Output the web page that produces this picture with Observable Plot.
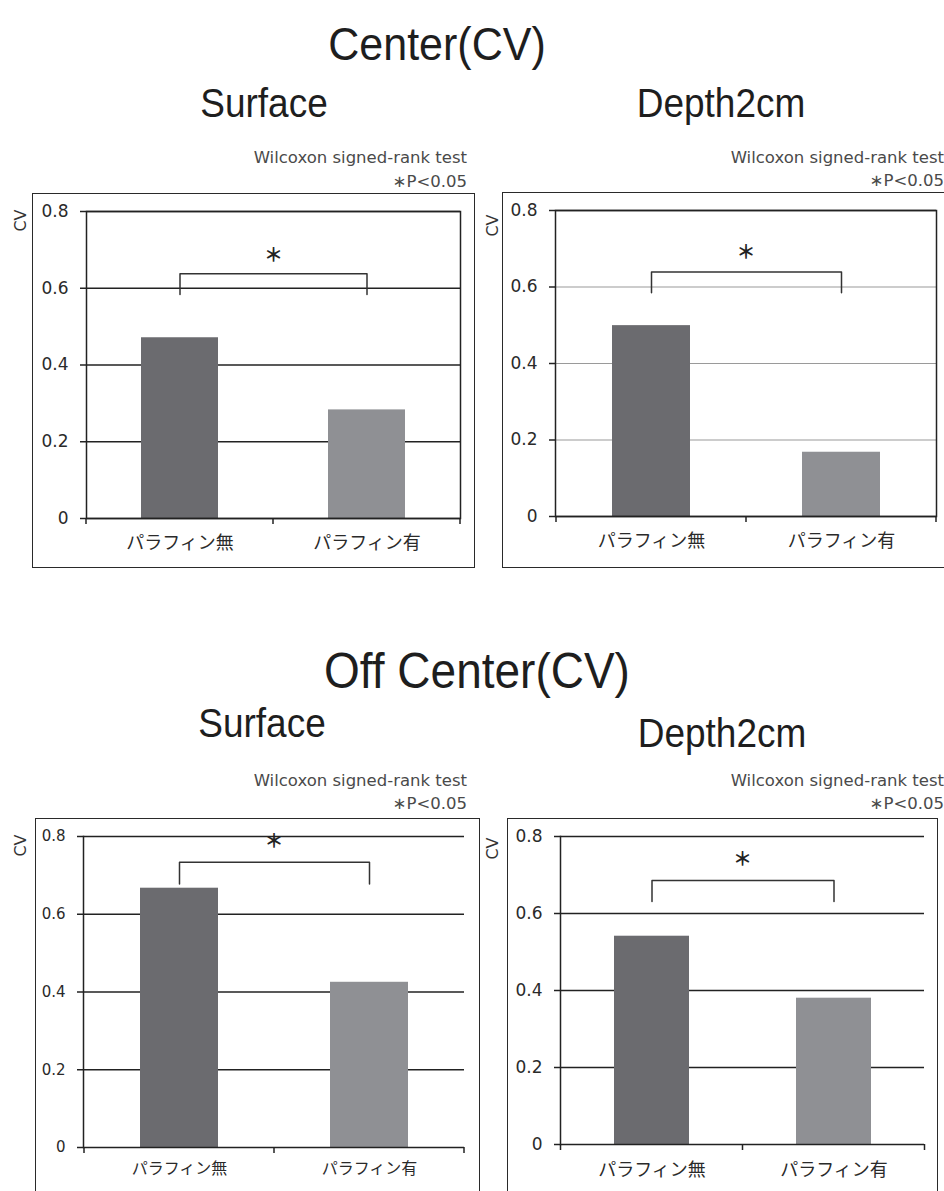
<!DOCTYPE html>
<html>
<head>
<meta charset="utf-8">
<script src="https://cdn.jsdelivr.net/npm/d3@7"></script>
<script src="https://cdn.jsdelivr.net/npm/@observablehq/plot@0.6"></script>
<style>
html, body { margin: 0; padding: 0; background: #fff; }
body { width: 944px; height: 1191px; overflow: hidden; position: relative; }
.abs { position: absolute; white-space: nowrap; }
.title { font-family: "Liberation Sans", Arial, sans-serif; color: #1e1e1e; line-height: 1; transform: translateX(-50%) scaleY(1.08); transform-origin: 50% 80%; }
.note { font-family: "DejaVu Sans", sans-serif; color: #4a4a4a; font-size: 16.5px; line-height: 1; text-align: right; }
.frame { position: absolute; border: 1.5px solid #2a2a2a; box-sizing: border-box; }
.plot { position: absolute; }
</style>
</head>
<body>
<script>
// ---------------- data ----------------
const categories = ["パラフィン無", "パラフィン有"];
const cvCenterSurface = [0.471, 0.283];
const cvCenterDepth = [0.499, 0.168];
const cvOffSurface = [0.667, 0.425];
const cvOffDepth = [0.541, 0.380];
const bracketTop = [0.638, 0.639, 0.734, 0.686];
const bracketEnd = [0.584, 0.585, 0.678, 0.631];
const starY = [0.685, 0.688, 0.785, 0.738];
const yTicks = [0, 0.2, 0.4, 0.6, 0.8];
const yTickLabels = ["0", "0.2", "0.4", "0.6", "0.8"];
const sectionTitles = ["Center(CV)", "Off Center(CV)"];
const depthTitles = ["Surface", "Depth2cm"];
const testNote = "Wilcoxon signed-rank test";
const sigNote = "∗P<0.05";
const starText = "＊";
const yLabel = "CV";
const barColors = ["#6b6b6f", "#8f9094"];

// ---------------- layout (positions / styles) ----------------
const panels = [
  {values: cvCenterSurface, svg: [0, 140, 472, 440], m: [71, 12, 62, 86], frame: [32, 193, 443, 375],
   grid: "#222", fullFrame: true, tickFont: 17, xFont: 18, xPad: 18, cv: [-66, 9], note: [467, 164, 188]},
  {values: cvCenterDepth, svg: [472, 140, 472, 440], m: [70, 8, 64, 83], frame: [502, 192, 450, 376],
   grid: "#9a9a9a", fullFrame: true, tickFont: 17, xFont: 18, xPad: 18, cv: [-63, 15], note: [944, 164, 187]},
  {values: cvOffSurface, svg: [0, 760, 472, 431], m: [76, 8, 44, 83], frame: [35, 818, 445, 420],
   grid: "#222", fullFrame: false, tickFont: 15, xFont: 16, xPad: 15, cv: [-63, 9], note: [467, 787, 810]},
  {values: cvOffDepth, svg: [472, 760, 472, 431], m: [76, 20, 47, 88], frame: [507, 818, 431, 420],
   grid: "#222", fullFrame: false, tickFont: 17, xFont: 18, xPad: 19, cv: [-68, 12], note: [944, 787, 810]}
];

const titles = [
  {text: sectionTitles[0], x: 437, base: 60, size: 43},
  {text: depthTitles[0], x: 264, base: 117, size: 37},
  {text: depthTitles[1], x: 721, base: 117, size: 37},
  {text: sectionTitles[1], x: 477, base: 688, size: 46},
  {text: depthTitles[0], x: 262, base: 737, size: 37},
  {text: depthTitles[1], x: 722, base: 747, size: 37}
];

function addDiv(cls, text, styles) {
  const d = document.createElement("div");
  d.className = cls;
  d.textContent = text;
  Object.assign(d.style, styles);
  document.body.appendChild(d);
  return d;
}

for (const t of titles) {
  addDiv("abs title", t.text, {left: t.x + "px", top: (t.base - 0.8465 * t.size) + "px", fontSize: t.size + "px"});
}

// boundary ticks below the x axis, computed from the band scale
function boundaryTicks(len) {
  return (index, scales) => {
    const x = scales.x, y = scales.y;
    const step = x.step(), bw = x.bandwidth();
    const y0 = y(0);
    const g = d3.create("svg:g").attr("stroke", "#222").attr("stroke-width", 1.5);
    const xs = x.domain().map(c => x(c) - (step - bw) / 2);
    xs.push(xs[xs.length - 1] + step);
    for (const xv of xs) g.append("line").attr("x1", xv).attr("x2", xv).attr("y1", y0).attr("y2", y0 + len);
    return g.node();
  };
}

panels.forEach((p, k) => {
  // outer frame
  const f = document.createElement("div");
  f.className = "frame";
  Object.assign(f.style, {left: p.frame[0] + "px", top: p.frame[1] + "px", width: p.frame[2] + "px", height: p.frame[3] + "px"});
  document.body.appendChild(f);

  // notes
  const right = (944 - p.note[0]) + "px";
  addDiv("abs note", testNote, {right, top: (p.note[1] - 14) + "px"});
  addDiv("abs note", sigNote, {right, top: (p.note[2] - 14) + "px"});

  const bars = categories.map((c, i) => ({c, v: p.values[i]}));
  const bracket = [
    {c: categories[0], y: bracketEnd[k]},
    {c: categories[0], y: bracketTop[k]},
    {c: categories[1], y: bracketTop[k]},
    {c: categories[1], y: bracketEnd[k]}
  ];

  const marks = [
    Plot.gridY(yTicks.filter(t => t > 0 && t < 0.8), {stroke: p.grid, strokeOpacity: 1, strokeWidth: p.grid === "#222" ? 1.5 : 1.2}),
    Plot.ruleY([0.8], {stroke: "#222", strokeWidth: 1.5}),
    Plot.barY(bars, {x: "c", y: "v", fill: "c"}),
    Plot.line(bracket, {x: "c", y: "y", stroke: "#333", strokeWidth: 1.5}),
    Plot.text([starY[k]], {y: d => d, text: () => starText, frameAnchor: "middle", fontSize: 19, fontWeight: "bold", fontFamily: "Noto Sans CJK JP", fill: "#222"}),
    Plot.axisY({ticks: yTicks, tickFormat: d => yTickLabels[yTicks.indexOf(d)], tickSize: 6, tickPadding: 12,
      fontSize: p.tickFont, label: null, stroke: "#222", strokeWidth: 1.5}),
    Plot.axisX({tickSize: 0, tickPadding: p.xPad, fontSize: p.xFont, fontFamily: "Noto Sans CJK JP", label: null}),
    Plot.text([yLabel], {text: d => d, frameAnchor: "top-left", rotate: -90, dx: p.cv[0], dy: p.cv[1],
      textAnchor: "middle", lineAnchor: "middle", fontSize: 16, fill: "#333"}),
    boundaryTicks(6),
    Plot.ruleY([0], {stroke: "#222", strokeWidth: 1.5})
  ];
  if (p.fullFrame) marks.push(Plot.frame({stroke: "#222", strokeWidth: 1.5}));
  else marks.push(Plot.frame({anchor: "left", stroke: "#222", strokeWidth: 1.5}));

  const chart = Plot.plot({
    width: p.svg[2],
    height: p.svg[3],
    marginTop: p.m[0], marginRight: p.m[1], marginBottom: p.m[2], marginLeft: p.m[3],
    x: {domain: categories, paddingInner: 0.59, paddingOuter: 0.295},
    y: {domain: [0, 0.8]},
    color: {domain: categories, range: barColors},
    style: {fontFamily: "DejaVu Sans, sans-serif", color: "#2a2a2a", background: "transparent", overflow: "visible"},
    marks
  });
  chart.classList.add("plot");
  chart.style.left = p.svg[0] + "px";
  chart.style.top = p.svg[1] + "px";
  document.body.appendChild(chart);
});
</script>
</body>
</html>
